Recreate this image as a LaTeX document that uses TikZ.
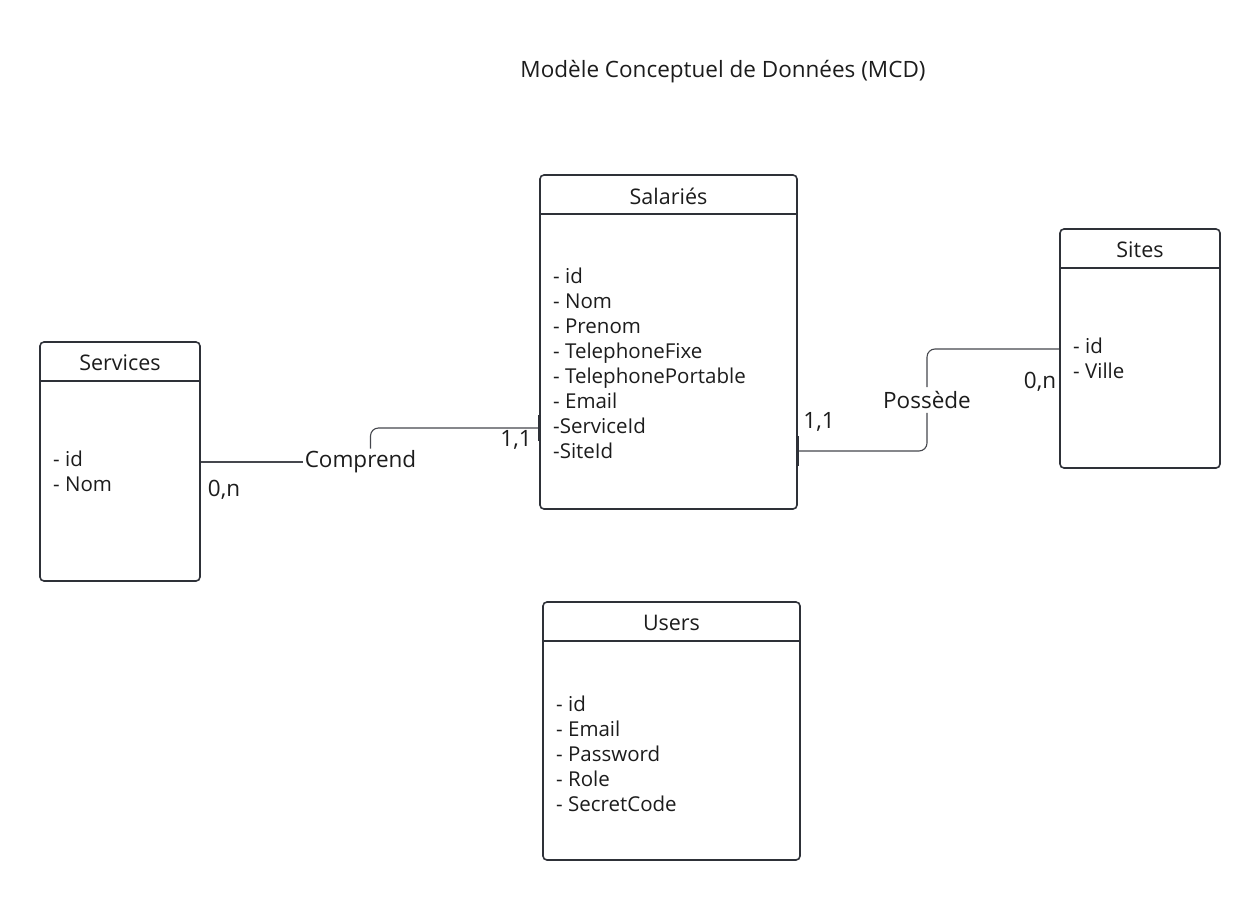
\documentclass[tikz,border=0pt]{standalone}
\usepackage{fontspec}
\setmainfont{Open Sans}
\usepackage{xcolor}
\usetikzlibrary{arrows.meta,positioning,calc}

\definecolor{boxline}{HTML}{2E3138}
\definecolor{linkline}{HTML}{45474D}
\definecolor{inktext}{HTML}{1C1C1C}

\tikzset{
  entity/.style={draw=boxline, line width=1.6pt, rounded corners=4pt, inner sep=0pt},
  etitle/.style={text=inktext, font=\fontsize{21.5}{24}\selectfont},
  attrs/.style={text=inktext, align=left, anchor=base west, inner sep=0pt,
    font=\fontsize{20.5}{25}\selectfont},
  link/.style={draw=linkline, line width=1.1pt, rounded corners=8pt},
  onebar/.style={draw=boxline, line width=2.6pt},
  rel/.style={text=inktext, inner sep=2pt, font=\fontsize{22.5}{24}\selectfont},
  card/.style={text=inktext, inner sep=0pt, font=\fontsize{22.5}{24}\selectfont}
}

\begin{document}
\begin{tikzpicture}[>=Stealth, x=1pt, y=-1pt]
        \useasboundingbox (0,0) rectangle (1260,901);

        % Title
        \node[text=inktext, font=\fontsize{22.5}{26}\selectfont] (mcd) at (723,72) {Modèle Conceptuel de Données (MCD)};

        % Entities
        \node[entity, minimum width=257, minimum height=334] (sal) at (668.5,342) {};
        \node[entity, minimum width=160, minimum height=239] (serv) at (120,461.5) {};
        \node[entity, minimum width=160, minimum height=239] (site) at (1140,348.5) {};
        \node[entity, minimum width=257, minimum height=258] (user) at (671.5,731) {};

        % Headers
        \node[etitle] (salT) at (668.5,196) {Salariés};
        \draw[boxline, line width=1.6pt] ([yshift=-40]sal.north west) -- ([yshift=-40]sal.north east);
        \node[etitle] (servT) at (120,363) {Services};
        \draw[boxline, line width=1.6pt] ([yshift=-40]serv.north west) -- ([yshift=-40]serv.north east);
        \node[etitle] (siteT) at (1140,250) {Sites};
        \draw[boxline, line width=1.6pt] ([yshift=-40]site.north west) -- ([yshift=-40]site.north east);
        \node[etitle] (userT) at (671.5,623) {Users};
        \draw[boxline, line width=1.6pt] ([yshift=-40]user.north west) -- ([yshift=-40]user.north east);

        % Attributes (anchored on the last baseline)
        \node[attrs] (salA) at (553,458) {- id\\- Nom\\- Prenom\\- TelephoneFixe\\- TelephonePortable\\- Email\\-ServiceId\\-SiteId};
        \node[attrs] (servA) at (53,491) {- id\\- Nom};
        \node[attrs] (siteA) at (1073,378) {- id\\- Ville};
        \node[attrs] (userA) at (556,811) {- id\\- Email\\- Password\\- Role\\- SecretCode};

        % Comprend
        \coordinate (servR) at (serv.east |- 0,462);
        \coordinate (salL) at (sal.west |- 0,428);
        \node[rel] (comp) at (360.5,462) {Comprend};
        \draw[link] (servR) -- (comp.west);
        \draw[link] ([xshift=10]comp.north) |- (salL);
        \draw[onebar] ([yshift=-13]salL) -- ([yshift=13]salL);
        \node[card] (c11) at (516,440) {1,1};
        \node[card] (c0n) at (224,490) {0,n};

        % Possède
        \coordinate (salR) at (sal.east |- 0,451);
        \coordinate (siteL) at (site.west |- 0,349);
        \node[rel, inner ysep=4pt] (poss) at (927,400) {Possède};
        \draw[link] (salR) -| (poss.south);
        \draw[link] (poss.north) |- (siteL);
        \draw[onebar] ([yshift=-15]salR) -- ([yshift=15]salR);
        \node[card] (p11) at (819,422) {1,1};
        \node[card] (p0n) at (1040,382) {0,n};
    \end{tikzpicture}
\end{document}
